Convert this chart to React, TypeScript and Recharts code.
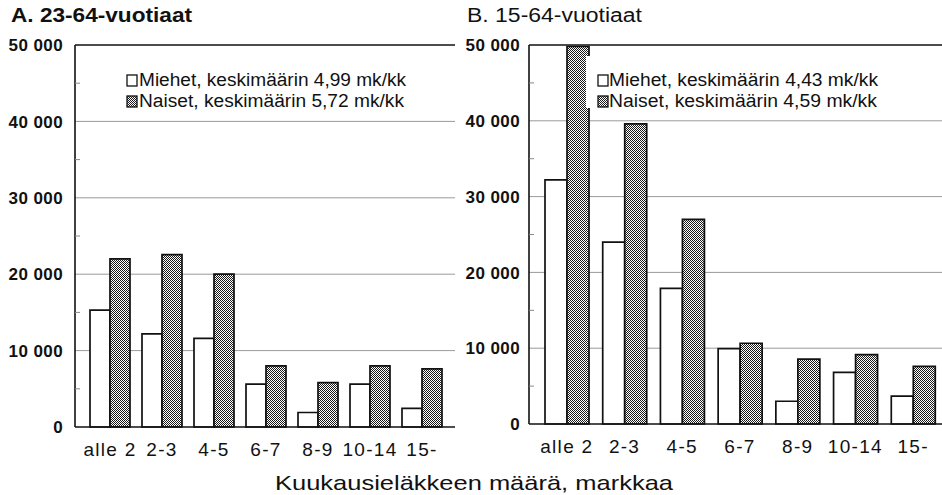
import React from 'react';
import { BarChart, Bar, XAxis, YAxis, CartesianGrid, ReferenceLine } from 'recharts';

const categories = ['alle 2', '2-3', '4-5', '6-7', '8-9', '10-14', '15-'];

// A. 23-64-vuotiaat
const menA = [15300, 12200, 11600, 5600, 1900, 5600, 2450];
const womenA = [22000, 22550, 20000, 8000, 5800, 8000, 7600];

// B. 15-64-vuotiaat
const menB = [32200, 24000, 17900, 9950, 3000, 6800, 3670];
const womenB = [49800, 39600, 27000, 10650, 8570, 9150, 7600];

const yTicks = [0, 5000, 10000, 15000, 20000, 25000, 30000, 35000, 40000, 45000, 50000];
const gridValues = [10000, 20000, 30000, 40000];

const FONT = '"Liberation Sans", Arial, Helvetica, sans-serif';

const dataA = categories.map((c, i) => ({ cat: c, miehet: menA[i], naiset: womenA[i] }));
const dataB = categories.map((c, i) => ({ cat: c, miehet: menB[i], naiset: womenB[i] }));

const fmt = (v: number) => (v === 0 ? '0' : `${v / 1000} 000`);

const makeYTick = (axisX: number) => (props: any) => {
  const { x, y, payload } = props;
  const v = payload.value;
  if (v % 10000 !== 0) {
    return <line x1={axisX} x2={axisX + 5} y1={y} y2={y} stroke="#888" strokeWidth={1} />;
  }
  return (
    <text
      x={x}
      y={y}
      dy="0.36em"
      textAnchor="end"
      fontFamily={FONT}
      fontSize={17}
      fontWeight="bold"
      fill="#111"
      style={{ letterSpacing: 0.4 }}
    >
      {fmt(v)}
    </text>
  );
};

const xTick = (props: any) => {
  const { x, y, payload } = props;
  return (
    <text
      x={x}
      y={y + 21}
      textAnchor="middle"
      fontFamily={FONT}
      fontSize={19}
      fill="#111"
      style={{ letterSpacing: 1.3 }}
    >
      {payload.value}
    </text>
  );
};

const Checker = ({ id }: { id: string }) => (
  <defs>
    <pattern id={id} width="2" height="2" patternUnits="userSpaceOnUse">
      <rect width="2" height="2" fill="#fff" />
      <rect width="1" height="1" fill="#1a1a1a" />
      <rect x="1" y="1" width="1" height="1" fill="#1a1a1a" />
    </pattern>
  </defs>
);

function Panel({
  data,
  width,
  yWidth,
  tickMargin,
  marginRight,
  xHeight,
  xPad,
  barSize,
  rightBorder,
  pid,
}: {
  data: any[];
  width: number;
  yWidth: number;
  tickMargin: number;
  marginRight: number;
  xHeight: number;
  xPad: { left: number; right: number };
  barSize: number;
  rightBorder: boolean;
  pid: string;
}) {
  return (
    <BarChart
      width={width}
      height={495}
      data={data}
      margin={{ top: 45, right: marginRight, bottom: 0, left: 0 }}
      barGap={0}
      barSize={barSize}
    >
      <Checker id={pid} />
      <CartesianGrid vertical={false} horizontalValues={gridValues} stroke="#9a9a9a" strokeWidth={1} />
      <XAxis
        dataKey="cat"
        height={xHeight}
        padding={xPad}
        tickLine={false}
        axisLine={{ stroke: '#111', strokeWidth: 1.6 }}
        tick={xTick}
        interval={0}
      />
      <YAxis
        width={yWidth}
        domain={[0, 50000]}
        ticks={yTicks}
        interval={0}
        tickLine={false}
        tickMargin={tickMargin}
        axisLine={{ stroke: '#111', strokeWidth: 1.6 }}
        tick={makeYTick(yWidth)}
      />
      {rightBorder && (
        <YAxis
          yAxisId="r"
          orientation="right"
          width={0}
          domain={[0, 50000]}
          tick={false}
          tickLine={false}
          axisLine={{ stroke: '#111', strokeWidth: 1.6 }}
        />
      )}
      <ReferenceLine y={50000} stroke="#111" strokeWidth={1.6} />
      <Bar dataKey="miehet" fill="#fff" stroke="#111" strokeWidth={1.7} isAnimationActive={false} />
      <Bar dataKey="naiset" fill={`url(#${pid})`} stroke="#111" strokeWidth={1.7} isAnimationActive={false} />
    </BarChart>
  );
}

export default function App() {
  const textStyle = { fontFamily: FONT, fill: '#111' };
  return (
    <div style={{ position: 'absolute', left: 0, top: 0, width: 942, height: 495, background: '#fff', overflow: 'hidden' }}>
      <div style={{ position: 'absolute', left: 0, top: 0 }}>
        <Panel
          data={dataA}
          width={457}
          yWidth={75}
          tickMargin={6}
          marginRight={2}
          xHeight={68}
          xPad={{ left: 9, right: 7 }}
          barSize={20}
          rightBorder={true}
          pid="chkA"
        />
      </div>
      <div style={{ position: 'absolute', left: 460, top: 0 }}>
        <Panel
          data={dataB}
          width={482}
          yWidth={69}
          tickMargin={3}
          marginRight={0}
          xHeight={71}
          xPad={{ left: 9, right: 0 }}
          barSize={22}
          rightBorder={false}
          pid="chkB"
        />
      </div>
      <svg width={942} height={495} style={{ position: 'absolute', left: 0, top: 0, pointerEvents: 'none' }}>
        <Checker id="chkL" />
        <text x={11} y={22} fontSize={20} fontWeight="bold" textLength={181} lengthAdjust="spacingAndGlyphs" style={textStyle}>
          A. 23-64-vuotiaat
        </text>
        <text x={467} y={22} fontSize={20} textLength={175} lengthAdjust="spacingAndGlyphs" style={textStyle}>
          B. 15-64-vuotiaat
        </text>

        {/* legend A */}
        <rect x={127} y={75} width={10} height={11} fill="#fff" stroke="#111" strokeWidth={1.3} />
        <text x={139} y={86} fontSize={18} textLength={267} lengthAdjust="spacingAndGlyphs" style={textStyle}>
          Miehet, keskimäärin 4,99 mk/kk
        </text>
        <rect x={127} y={96} width={10} height={11} fill="url(#chkL)" stroke="#111" strokeWidth={1.3} />
        <text x={139} y={107} fontSize={18} textLength={265} lengthAdjust="spacingAndGlyphs" style={textStyle}>
          Naiset, keskimäärin 5,72 mk/kk
        </text>

        {/* legend B */}
        <rect x={586} y={56} width={296} height={52} fill="#fff" />
        <rect x={598} y={75} width={10} height={11} fill="#fff" stroke="#111" strokeWidth={1.3} />
        <text x={609} y={86} fontSize={18} textLength={269} lengthAdjust="spacingAndGlyphs" style={textStyle}>
          Miehet, keskimäärin 4,43 mk/kk
        </text>
        <rect x={598} y={96} width={10} height={11} fill="url(#chkL)" stroke="#111" strokeWidth={1.3} />
        <text x={609} y={107} fontSize={18} textLength={268} lengthAdjust="spacingAndGlyphs" style={textStyle}>
          Naiset, keskimäärin 4,59 mk/kk
        </text>

        <text x={275} y={490} fontSize={21} textLength={398} lengthAdjust="spacingAndGlyphs" style={textStyle}>
          Kuukausieläkkeen määrä, markkaa
        </text>
      </svg>
    </div>
  );
}
